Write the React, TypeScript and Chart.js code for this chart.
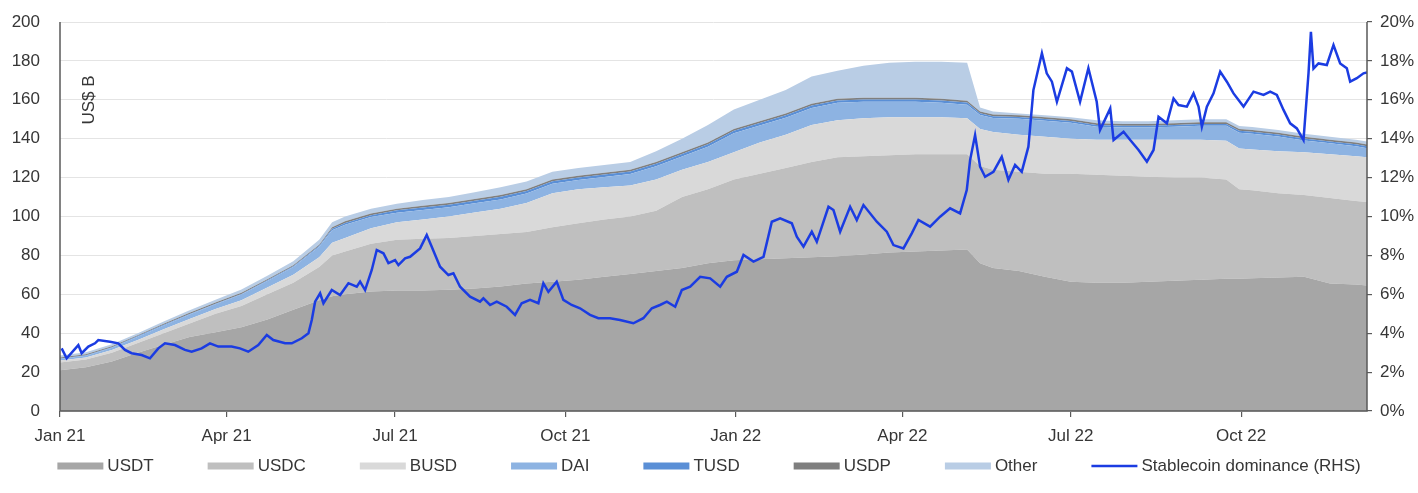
import React, { useEffect, useRef } from 'react';
import { Chart, registerables } from 'chart.js';

Chart.register(...registerables);

// ---------- data ----------
// sample day offsets (days since 1 Jan 2021)
const DAYS = [0, 14, 28, 42, 56, 70, 84, 98, 112, 126, 140, 147, 154, 168, 182, 196, 210, 224, 238, 252, 266, 280, 294, 308, 322, 336, 350, 364, 378, 392, 406, 420, 434, 448, 462, 476, 490, 497, 504, 518, 532, 546, 560, 574, 588, 602, 616, 630, 637, 644, 658, 672, 686, 700, 706];

// US$ B
const USDT = [21, 22.5, 25.5, 30, 34, 38, 40.5, 43, 47, 52, 57, 59, 60, 61.5, 62, 62, 62.3, 63, 64, 65.5, 66.5, 67.5, 69, 70.5, 72, 73.5, 76, 77.5, 78, 78.5, 79, 79.5, 80.5, 81.5, 82, 82.5, 83, 76, 73.5, 72, 69, 66.5, 66, 66, 66.5, 67, 67.5, 68, 68, 68.3, 68.6, 69, 65.5, 65, 64.5];
const USDC = [4, 4, 4.5, 5, 6, 7, 9.5, 11, 13, 14, 17, 21, 22, 24.5, 26, 26.5, 26.7, 27, 27, 26.5, 28, 29, 29.5, 29.5, 31, 36.5, 38, 41.5, 44, 46.5, 49, 51, 50.5, 50, 50, 49.5, 49, 50, 50.5, 51, 53, 55.5, 55.5, 55, 54, 53, 52.5, 51, 46, 45.2, 43.4, 42, 44, 43, 43];
const BUSD = [1, 1, 1.3, 1.5, 2, 2.3, 2.5, 3, 3.5, 4, 5, 6.5, 7, 8, 9, 10, 11, 12, 13, 15, 17.5, 17.5, 16.5, 16, 16, 14, 14, 14, 16, 17, 19, 19, 19.5, 19.5, 19, 19, 18.5, 19, 19.5, 19, 19, 18, 18, 18.5, 19, 19.5, 19.5, 20, 21, 21, 21.5, 22, 22.5, 23, 23];
const DAI = [0.7, 0.9, 1.2, 1.7, 2.0, 2.3, 2.4, 2.9, 3.4, 4.0, 5.4, 6.4, 6.7, 5.7, 4.9, 4.8, 4.8, 4.8, 4.8, 4.8, 4.8, 4.8, 5.3, 5.8, 6.8, 6.8, 7.8, 9.8, 8.8, 8.8, 8.8, 9.0, 8.5, 8.0, 8.0, 7.5, 7.0, 7.2, 7.2, 8.2, 8.2, 8.2, 6.7, 6.2, 6.2, 6.7, 7.2, 7.7, 8.1, 8.1, 7.6, 6.1, 5.6, 5.1, 4.6];
const TUSD = [0.3, 0.3, 0.3, 0.3, 0.3, 0.3, 0.3, 0.3, 0.3, 0.4, 0.5, 0.8, 1.0, 1.0, 1.3, 1.3, 1.3, 1.3, 1.3, 1.3, 1.3, 1.3, 1.3, 1.3, 1.3, 1.3, 1.3, 1.3, 1.3, 1.3, 1.3, 1.1, 1.1, 1.1, 1.1, 1.1, 1.1, 0.9, 0.9, 0.9, 0.9, 0.9, 0.9, 0.9, 0.9, 0.9, 0.9, 0.9, 1.0, 1.0, 1.0, 1.0, 1.0, 1.0, 1.0];
const USDP = [0.5, 0.5, 0.5, 0.5, 0.5, 0.6, 0.6, 0.6, 0.6, 0.6, 0.6, 0.8, 0.8, 0.8, 0.8, 0.9, 0.9, 0.9, 0.9, 0.9, 0.9, 0.9, 0.9, 0.9, 0.9, 0.9, 0.9, 0.9, 0.9, 0.9, 0.9, 0.9, 0.9, 0.9, 0.9, 0.9, 0.9, 0.9, 0.9, 0.9, 0.9, 0.9, 0.9, 0.9, 0.9, 0.9, 0.9, 0.9, 0.9, 0.9, 0.9, 0.9, 0.9, 0.9, 0.9];
const OTHER = [1, 1, 1, 1, 1.2, 1.3, 1.4, 1.7, 1.7, 2, 2.5, 2.5, 2.5, 2.5, 2.5, 3, 3, 3.5, 4, 4, 4, 4, 4, 4, 5.5, 7, 9, 10, 11, 12, 14, 14.5, 16.5, 18, 18.5, 19, 19.5, 2, 1.5, 1, 1, 1, 1.5, 1.5, 1.5, 1.5, 1.5, 1.5, 1.5, 1.5, 1.5, 1.5, 1.5, 1.5, 1.5];

// Stablecoin dominance (%), RHS
const DOM_DAYS = [0.9, 3.6, 9.9, 11.7, 15.3, 18.9, 20.7, 27, 31.5, 35.1, 38.7, 44.1, 48.6, 53.1, 56.7, 62.1, 67.5, 71.1, 76.5, 81, 85.5, 92.7, 97.2, 101.7, 107.1, 111.7, 115.2, 121.6, 125.2, 130.6, 134.2, 136, 137.8, 140.5, 142.3, 146.8, 151.3, 155.8, 160.3, 162.1, 164.8, 168.4, 171.1, 174.7, 177.4, 181, 182.8, 186.4, 189.1, 194.5, 198.1, 200.8, 205.3, 209.8, 212.5, 216.1, 221.5, 226.9, 228.7, 232.3, 235.9, 241.3, 245.8, 249.4, 253.9, 258.4, 261.1, 263.8, 268.3, 271.9, 276.4, 280.9, 286.3, 290.8, 297.1, 302.5, 309.7, 315.1, 319.7, 324.1, 327.8, 332.3, 335.9, 340.4, 345.8, 351.2, 356.6, 360.2, 365.6, 369.2, 374.6, 380, 384.5, 389, 395.3, 398, 401.6, 406.1, 408.8, 415.1, 417.8, 421.4, 426.8, 430.4, 434, 441.2, 446.6, 450.2, 455.6, 460.1, 463.7, 470, 475.4, 480.8, 486.2, 489.8, 491.6, 494.3, 497, 499.7, 504.2, 508.7, 512.3, 515.9, 519.5, 523.1, 525.8, 530.4, 533, 535.8, 538.5, 543.9, 546.6, 551, 555.5, 560, 561.8, 567.3, 569.1, 574.5, 578.1, 582.6, 587.1, 590.7, 593.4, 597.9, 601.5, 604.2, 608.7, 612.3, 615, 616.8, 619.5, 623.1, 626.7, 630.3, 633.9, 639.3, 644.7, 650.1, 653.7, 657.3, 660.9, 664.5, 668.1, 671.7, 674.4, 675.7, 677.1, 679.8, 684.3, 687.9, 691.5, 695.1, 696.9, 700.5, 704.1, 706];
const DOM_VALUES = [3.22, 2.71, 3.39, 2.97, 3.31, 3.48, 3.65, 3.56, 3.48, 3.14, 2.97, 2.88, 2.71, 3.22, 3.48, 3.39, 3.14, 3.05, 3.22, 3.48, 3.31, 3.31, 3.22, 3.05, 3.39, 3.91, 3.65, 3.48, 3.48, 3.74, 4.0, 4.68, 5.62, 6.05, 5.54, 6.22, 5.96, 6.57, 6.39, 6.65, 6.22, 7.25, 8.28, 8.11, 7.6, 7.76, 7.5, 7.85, 7.93, 8.36, 9.05, 8.45, 7.42, 6.99, 7.08, 6.39, 5.88, 5.62, 5.79, 5.45, 5.62, 5.36, 4.94, 5.54, 5.71, 5.54, 6.57, 6.13, 6.65, 5.71, 5.45, 5.28, 4.94, 4.77, 4.77, 4.68, 4.51, 4.77, 5.28, 5.45, 5.62, 5.36, 6.22, 6.39, 6.9, 6.82, 6.39, 6.9, 7.16, 8.02, 7.68, 7.93, 9.73, 9.9, 9.65, 8.96, 8.45, 9.22, 8.7, 10.5, 10.33, 9.22, 10.5, 9.82, 10.59, 9.73, 9.22, 8.53, 8.36, 9.13, 9.82, 9.48, 9.99, 10.42, 10.16, 11.36, 12.9, 14.19, 12.56, 12.04, 12.3, 13.07, 11.88, 12.65, 12.3, 13.59, 16.5, 18.39, 17.36, 16.93, 15.9, 17.62, 17.45, 15.9, 17.62, 15.9, 14.45, 15.56, 13.93, 14.36, 13.93, 13.42, 12.82, 13.42, 15.13, 14.79, 16.07, 15.73, 15.65, 16.33, 15.65, 14.62, 15.65, 16.33, 17.45, 16.93, 16.33, 15.65, 16.42, 16.25, 16.42, 16.25, 15.48, 14.79, 14.53, 13.93, 17.36, 19.5, 17.6, 17.87, 17.79, 18.82, 17.87, 17.62, 16.93, 17.11, 17.36, 17.4];

const TICK_DAYS = [0, 90, 181, 273, 365, 455, 546, 638];
const TICK_LABELS = ['Jan 21', 'Apr 21', 'Jul 21', 'Oct 21', 'Jan 22', 'Apr 22', 'Jul 22', 'Oct 22'];
const UNIT_LABEL = 'US$ B';
const LINE_LABEL = 'Stablecoin dominance (RHS)';

// ---------- style ----------
const FONT = '"Liberation Sans", Arial, sans-serif';
const FONT_SIZE = 17;
const TEXT_COLOR = '#363636';
const AXIS_COLOR = '#5a5a5a';
const GRID_COLOR = '#e4e4e4';
const LINE_COLOR = '#1b3ce2';

const SERIES = [
  { label: 'USDT', data: USDT, color: '#a6a6a6' },
  { label: 'USDC', data: USDC, color: '#bfbfbf' },
  { label: 'BUSD', data: BUSD, color: '#d9d9d9' },
  { label: 'DAI', data: DAI, color: '#8db3e2' },
  { label: 'TUSD', data: TUSD, color: '#5a8fd6' },
  { label: 'USDP', data: USDP, color: '#7f7f7f' },
  { label: 'Other', data: OTHER, color: '#b9cde5' },
];

const decorPlugin = {
  id: 'decor',
  afterDatasetsDraw(chart: any) {
    const { ctx, chartArea: a } = chart;
    ctx.save();
    ctx.strokeStyle = AXIS_COLOR;
    ctx.lineWidth = 1.5;
    ctx.beginPath();
    ctx.moveTo(a.left, a.top);
    ctx.lineTo(a.left, a.bottom);
    ctx.lineTo(a.right, a.bottom);
    ctx.lineTo(a.right, a.top);
    ctx.stroke();
    ctx.translate(a.left + 29, a.top + 78);
    ctx.rotate(-Math.PI / 2);
    ctx.fillStyle = TEXT_COLOR;
    ctx.font = `${FONT_SIZE}px ${FONT}`;
    ctx.textAlign = 'center';
    ctx.textBaseline = 'middle';
    ctx.fillText(UNIT_LABEL, 0, 0);
    ctx.restore();
  },
  afterDraw(chart: any) {
    const ctx = chart.ctx;
    ctx.save();
    ctx.font = `${FONT_SIZE}px ${FONT}`;
    const items = chart.data.datasets.map((ds: any) => ({
      label: ds.label,
      line: ds.yAxisID === 'y1',
      color: ds.yAxisID === 'y1' ? ds.borderColor : ds.backgroundColor,
    }));
    const SW = 46, TG = 4, IG = 54;
    const widths = items.map((it: any) => SW + TG + ctx.measureText(it.label).width);
    const total = widths.reduce((s: number, w: number) => s + w, 0) + IG * (items.length - 1);
    let x = (chart.width - total) / 2;
    const y = 466;
    items.forEach((it: any, i: number) => {
      ctx.fillStyle = it.color;
      if (it.line) ctx.fillRect(x, y - 1.25, SW, 2.5);
      else ctx.fillRect(x, y - 3.5, SW, 7);
      ctx.fillStyle = TEXT_COLOR;
      ctx.textAlign = 'left';
      ctx.textBaseline = 'middle';
      ctx.fillText(it.label, x + SW + TG, y);
      x += widths[i] + IG;
    });
    ctx.restore();
  },
};

export default function App() {
  const ref = useRef<HTMLCanvasElement>(null);

  useEffect(() => {
    const canvas = ref.current;
    if (!canvas) return;
    const tickFont = { family: FONT, size: FONT_SIZE };

    const datasets: any[] = SERIES.map((s, i) => ({
      type: 'line',
      label: s.label,
      data: s.data.map((v, j) => ({ x: DAYS[j], y: v })),
      yAxisID: 'y',
      backgroundColor: s.color,
      borderColor: 'rgba(0,0,0,0)',
      borderWidth: 0,
      pointRadius: 0,
      tension: 0,
      fill: i === 0 ? 'origin' : '-1',
      order: 1,
    }));
    datasets.push({
      type: 'line',
      label: LINE_LABEL,
      data: DOM_DAYS.map((d, j) => ({ x: d, y: DOM_VALUES[j] })),
      yAxisID: 'y1',
      borderColor: LINE_COLOR,
      backgroundColor: LINE_COLOR,
      borderWidth: 2.5,
      pointRadius: 0,
      tension: 0,
      fill: false,
      order: 0,
    });

    const chart = new Chart(canvas, {
      type: 'line',
      data: { datasets },
      options: {
        responsive: false,
        animation: false,
        events: [],
        layout: { padding: { top: 22, bottom: 42, left: 0, right: 0 } },
        plugins: { legend: { display: false }, tooltip: { enabled: false } },
        scales: {
          x: {
            type: 'linear',
            min: 0,
            max: 706,
            afterBuildTicks: (s: any) => {
              s.ticks = TICK_DAYS.map((v) => ({ value: v }));
            },
            afterFit: (s: any) => {
              s.height = 40;
            },
            ticks: {
              autoSkip: false,
              maxRotation: 0,
              padding: 9,
              color: TEXT_COLOR,
              font: tickFont,
              callback: (v: any) => TICK_LABELS[TICK_DAYS.indexOf(Number(v))],
            },
            grid: { drawOnChartArea: false, drawTicks: true, tickLength: 6, color: AXIS_COLOR, lineWidth: 1.2 },
            border: { display: false },
          },
          y: {
            type: 'linear',
            position: 'left',
            stacked: true,
            min: 0,
            max: 200,
            afterFit: (s: any) => {
              s.width = 60;
            },
            ticks: { stepSize: 20, padding: 2, color: TEXT_COLOR, font: tickFont },
            grid: { color: GRID_COLOR, drawTicks: true, tickLength: 18, tickColor: 'rgba(0,0,0,0)', lineWidth: 1 },
            border: { display: false },
          },
          y1: {
            type: 'linear',
            position: 'right',
            min: 0,
            max: 20,
            afterFit: (s: any) => {
              s.width = 51;
            },
            ticks: { stepSize: 2, padding: 8, color: TEXT_COLOR, font: tickFont, callback: (v: any) => `${v}%` },
            grid: { drawOnChartArea: false, drawTicks: true, tickLength: 5, color: AXIS_COLOR, lineWidth: 1.2 },
            border: { display: false },
          },
        },
      } as any,
      plugins: [decorPlugin],
    });

    return () => chart.destroy();
  }, []);

  return (
    <div style={{ position: 'fixed', left: 0, top: 0, width: 1418, height: 493, background: '#fff' }}>
      <canvas ref={ref} width={1418} height={493} style={{ display: 'block', width: 1418, height: 493 }} />
    </div>
  );
}
